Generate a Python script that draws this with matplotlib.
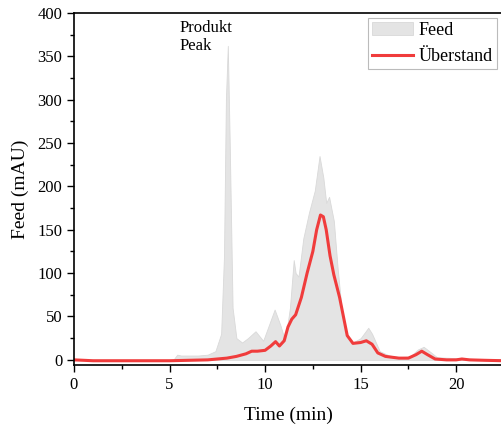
import matplotlib.pyplot as plt
from matplotlib.ticker import MultipleLocator

# Feed chromatogram (gray area)
feed_t = [0, 5.2, 5.4, 5.6, 6.0, 6.5, 7.0, 7.4, 7.7, 7.85, 7.95, 8.05, 8.15, 8.3, 8.5,
          8.8, 9.1, 9.5, 9.9, 10.2, 10.5, 10.8, 11.05, 11.3, 11.5, 11.6, 11.75, 12.0,
          12.3, 12.6, 12.85, 13.05, 13.2, 13.35, 13.6, 13.8, 14.0, 14.3, 14.6, 15.0,
          15.4, 15.6, 16.0, 16.5, 17.0, 17.6, 18.0, 18.3, 18.6, 19.0, 20.0, 21.0, 22.5]
feed_v = [0, 0, 6, 5, 5, 5, 6, 10, 30, 120, 300, 362, 250, 60, 25,
          20, 25, 33, 22, 40, 58, 40, 22, 60, 115, 100, 96, 140,
          170, 195, 235, 210, 181, 188, 160, 105, 60, 27, 20, 25,
          37, 30, 10, 5, 3, 4, 12, 15, 10, 3, 2, 1, 1]

# Überstand chromatogram (red line)
ueb_t = [0, 1, 3, 5, 6, 7, 7.5, 8, 8.5, 9.0, 9.3, 9.6, 10.0, 10.3, 10.55, 10.75, 11.0,
         11.2, 11.4, 11.6, 11.9, 12.2, 12.5, 12.7, 12.9, 13.05, 13.2, 13.4, 13.6, 13.9,
         14.1, 14.3, 14.6, 15.0, 15.3, 15.6, 15.9, 16.3, 17.0, 17.5, 17.9, 18.2, 18.5,
         18.9, 19.5, 20.0, 20.3, 20.7, 21.5, 22.5]
ueb_v = [0, -1, -1, -1, -0.5, 0, 1, 2, 4, 7, 10, 10, 11, 16, 21, 16, 22,
         38, 47, 52, 72, 100, 125, 150, 167, 165, 150, 120, 98, 72,
         50, 28, 19, 20, 22, 18, 8, 4, 2, 2, 6, 10, 6,
         1, 0, 0, 1, 0, -0.5, -1]

plt.rcParams['font.family'] = ['Liberation Serif', 'DejaVu Serif']

fig = plt.figure(figsize=(5.02, 4.30), dpi=100)
ax = fig.add_axes([0.1474, 0.151, 0.8526, 0.819])

ax.fill_between(feed_t, feed_v, 0, color='#e4e4e4', edgecolor='#d9d9d9', linewidth=0.6, label='Feed')
ax.plot(ueb_t, ueb_v, color='#f03c3c', linewidth=2.2, solid_joinstyle='round', label='Überstand')

ax.set_xlim(0, 22.4)
ax.set_ylim(-6, 400)
ax.xaxis.set_major_locator(MultipleLocator(5))
ax.xaxis.set_minor_locator(MultipleLocator(2.5))
ax.yaxis.set_major_locator(MultipleLocator(50))
ax.yaxis.set_minor_locator(MultipleLocator(25))
ax.tick_params(which='major', direction='out', length=5, width=1, labelsize=12)
ax.tick_params(which='minor', direction='out', length=3, width=1)
ax.spines['right'].set_visible(False)
for s in ['left', 'bottom', 'top']:
    ax.spines[s].set_linewidth(1.2)

ax.set_xlabel('Time (min)', fontsize=14, labelpad=10)
ax.set_ylabel('Feed (mAU)', fontsize=14, labelpad=6)

ax.text(5.5, 392, 'Produkt\nPeak', fontsize=12, va='top', ha='left', linespacing=1.15)

leg = ax.legend(loc='upper right', fontsize=13, frameon=True, fancybox=False,
                edgecolor='#bbbbbb', borderpad=0.2, handlelength=2.3,
                handletextpad=0.3, borderaxespad=0.3, framealpha=1)
leg.get_frame().set_linewidth(0.8)

plt.savefig('out.png', dpi=100)
plt.close()
